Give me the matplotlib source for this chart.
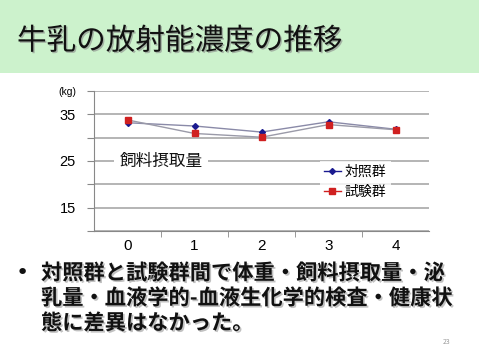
import matplotlib
matplotlib.use("Agg")
import matplotlib.pyplot as plt
import matplotlib.patheffects as pe
from matplotlib.patches import Rectangle
from matplotlib.lines import Line2D

plt.rcParams['font.family'] = ['Noto Sans CJK JP', 'DejaVu Sans']

weeks = [0, 1, 2, 3, 4]
control = [33.2, 32.5, 31.2, 33.4, 31.8]
test = [33.8, 30.9, 30.1, 32.8, 31.7]
series_names = ["対照群", "試験群"]
ytick_values = [10, 15, 20, 25, 30, 35, 40]
ytick_labels = ["", "15", "", "25", "", "35", "(kg)"]
title = "牛乳の放射能濃度の推移"
chart_label = "飼料摂取量"
bullet_lines = ["対照群と試験群間で体重・飼料摂取量・泌",
                "乳量・血液学的-血液生化学的検査・健康状",
                "態に差異はなかった。"]
page_no = "23"

W, H = 479, 359
fig = plt.figure(figsize=(W / 100, H / 100), dpi=100)
fig.patch.set_facecolor("white")

def fx(px):
    return px / W

def fy(py):
    return 1 - py / H

# title banner
fig.patches.append(Rectangle((0, fy(73)), 1, 73 / H, transform=fig.transFigure,
                             facecolor="#ccf2cc", edgecolor="none", zorder=0))
shadow = [pe.withSimplePatchShadow(offset=(1, -1), shadow_rgbFace="#888888", alpha=0.6)]
fig.text(fx(17), fy(41), title, fontsize=21.3, color="#111111", va="center", ha="left",
         path_effects=shadow)

# chart
ax = fig.add_axes([fx(94), fy(231), fx(429) - fx(94), (231 - 91) / H])
ax.set_xlim(-0.5, 4.5)
ax.set_ylim(10, 40)
ax.set_yticks(ytick_values)
ax.set_yticklabels(ytick_labels, fontfamily="Liberation Sans", fontsize=10.5)
for lbl in ax.get_yticklabels():
    if lbl.get_text() == "(kg)":
        lbl.set_fontsize(7.5)
ax.set_xticks(weeks)
ax.set_xticklabels([str(w) for w in weeks], fontfamily="Liberation Sans", fontsize=11)
ax.set_xticks([0.5, 1.5, 2.5, 3.5], minor=True)
ax.tick_params(axis="x", which="major", length=0, pad=6)
ax.tick_params(axis="x", which="minor", length=4, color="#888888", direction="out")
ax.tick_params(axis="y", length=5, color="#888888", direction="out", pad=8)
ax.grid(axis="y", color="#a0a0a0", linewidth=1.1)
ax.set_axisbelow(True)
for s in ["top", "right"]:
    ax.spines[s].set_visible(False)
for s in ["left", "bottom"]:
    ax.spines[s].set_color("#888888")

ax.plot(weeks, control, color="#8a8aa8", linewidth=1.0, zorder=3)
ax.plot(weeks, test, color="#9a9aa8", linewidth=1.0, zorder=3)
ax.plot(weeks, control, linestyle="none", marker="D", markersize=3,
        color="#1a1a90", zorder=4)
ax.plot(weeks, test, linestyle="none", marker="s", markersize=4.5,
        color="#d02020", zorder=5)

ax.text(0.5, 25, chart_label, fontsize=12, va="center", ha="center", color="#111111",
        bbox=dict(facecolor="white", edgecolor="none", pad=4), zorder=6)

# legend
handles = [Line2D([], [], color="#1a1a90", marker="D", markersize=3, linewidth=1),
           Line2D([], [], color="#d02020", marker="s", markersize=4.5, linewidth=1)]
leg = ax.legend(handles, series_names, loc="center left",
                bbox_to_anchor=((313 - 94) / (429 - 94), (231 - 182) / 140),
                frameon=True, fontsize=10, handlelength=1.2, handletextpad=0.3,
                borderpad=0.3, labelspacing=0.45)
leg.get_frame().set_facecolor("white")
leg.get_frame().set_edgecolor("none")
leg.get_frame().set_boxstyle("square", pad=0)
leg.set_zorder(7)

# bullet text
shadow2 = [pe.withSimplePatchShadow(offset=(1.2, -1.2), shadow_rgbFace="#999999", alpha=0.6)]
fig.text(fx(22), fy(273), "•", fontsize=16, va="center", ha="center", color="#111111",
         fontfamily="DejaVu Sans")
for i, line in enumerate(bullet_lines):
    fig.text(fx(41), fy(273 + 25 * i), line, fontsize=15.3, fontweight="bold",
             va="center", ha="left", color="#111111", path_effects=shadow2)

fig.text(fx(447), fy(342), page_no, fontsize=5, color="#999999", ha="center", va="center")

fig.savefig("out.png", dpi=100)
